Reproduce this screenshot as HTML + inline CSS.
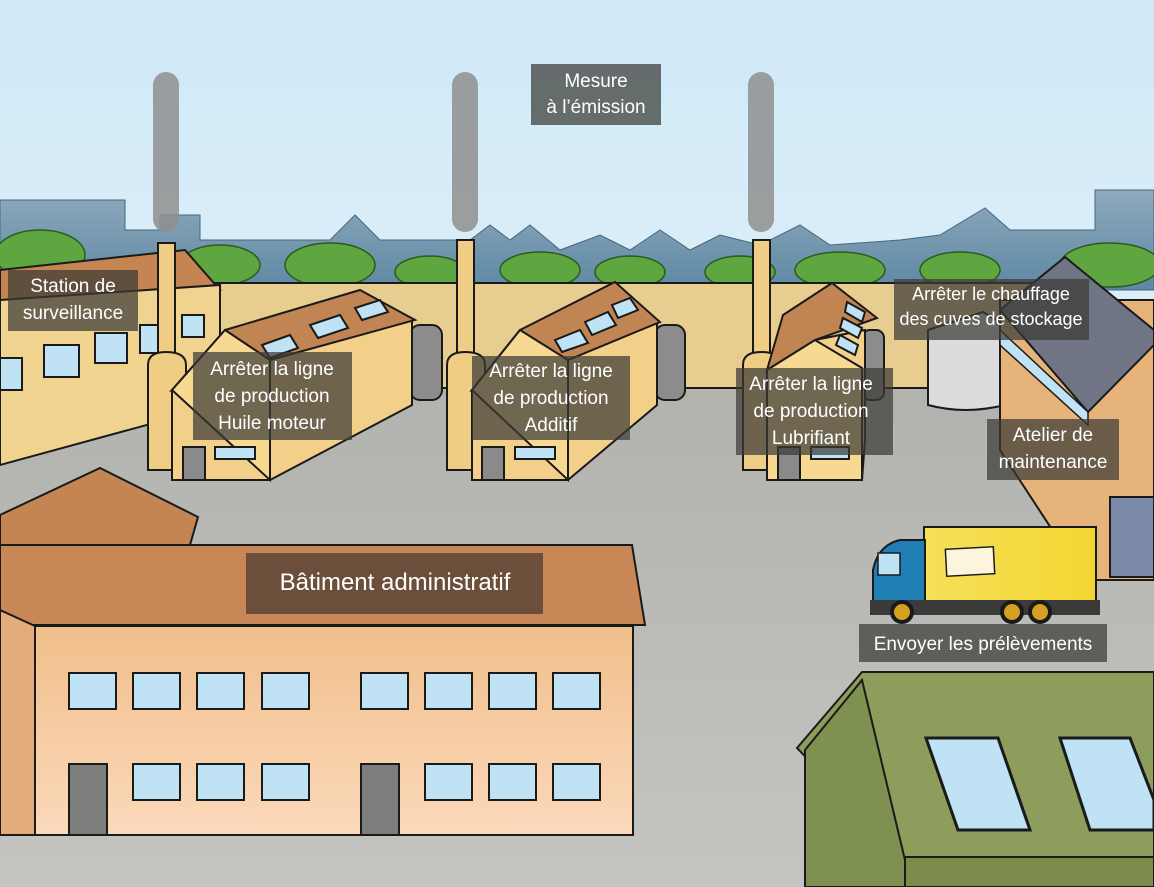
<!DOCTYPE html>
<html><head><meta charset="utf-8"><style>
html,body{margin:0;padding:0;width:1154px;height:887px;overflow:hidden;background:#fff}
svg{display:block}
text{font-family:"Liberation Sans",sans-serif;fill:#fff}
</style></head><body>
<svg width="1154" height="887" viewBox="0 0 1154 887">
<defs>
<linearGradient id="sky" x1="0" y1="0" x2="0" y2="1"><stop offset="0" stop-color="#cfe9f8"/><stop offset="1" stop-color="#f4f9fb"/></linearGradient>
<linearGradient id="city" x1="0" y1="0" x2="0" y2="1"><stop offset="0" stop-color="#8fa9bd"/><stop offset="1" stop-color="#5d88a3"/></linearGradient>
<linearGradient id="ground" x1="0" y1="0" x2="0" y2="1"><stop offset="0" stop-color="#b2b2ae"/><stop offset="1" stop-color="#c4c4c0"/></linearGradient>
<linearGradient id="peach" x1="0" y1="0" x2="0" y2="1"><stop offset="0" stop-color="#f1bf8a"/><stop offset="1" stop-color="#fbd9bb"/></linearGradient>
<linearGradient id="truck" x1="0" y1="0" x2="1" y2="0"><stop offset="0" stop-color="#f5e05a"/><stop offset="1" stop-color="#f3d630"/></linearGradient>
</defs>
<rect width="1154" height="887" fill="url(#sky)"/>
<path d="M0 200 H125 V230 H160 V215 H200 V240 H330 L355 215 L380 240 H470 L490 225 L510 240 L530 225 L560 250 L600 235 L630 250 L660 230 L690 250 L720 235 L760 245 L800 225 L830 245 L900 240 L940 235 L985 208 L1010 230 L1095 230 V190 H1154 V290 H0Z" fill="url(#city)" stroke="#46677d" stroke-width="1"/>
<g fill="#5ea63f" stroke="#2d5a1e" stroke-width="1.5">
<ellipse cx="40" cy="255" rx="45" ry="25"/><ellipse cx="220" cy="265" rx="40" ry="20"/>
<ellipse cx="330" cy="265" rx="45" ry="22"/><ellipse cx="430" cy="272" rx="35" ry="16"/>
<ellipse cx="540" cy="270" rx="40" ry="18"/><ellipse cx="630" cy="272" rx="35" ry="16"/>
<ellipse cx="740" cy="272" rx="35" ry="16"/><ellipse cx="840" cy="270" rx="45" ry="18"/>
<ellipse cx="960" cy="270" rx="40" ry="18"/><ellipse cx="1110" cy="265" rx="50" ry="22"/>
</g>
<rect x="0" y="385" width="1154" height="502" fill="url(#ground)"/>
<rect x="150" y="283" width="900" height="105" fill="#e8cd90" stroke="#1a1a1a" stroke-width="2"/>
<g fill="#8f8f8f" opacity="0.85">
<rect x="153" y="72" width="26" height="160" rx="13"/><rect x="452" y="72" width="26" height="160" rx="13"/><rect x="748" y="72" width="26" height="160" rx="13"/>
</g>
<polygon points="0,270 185,250 220,290 0,310" fill="#c48552" stroke="#1a1a1a" stroke-width="2"/>
<polygon points="0,300 220,285 220,405 0,465" fill="#f0d38f" stroke="#1a1a1a" stroke-width="2"/>
<g fill="#bfe2f5" stroke="#1a1a1a" stroke-width="2">
<rect x="44" y="345" width="35" height="32"/><rect x="95" y="333" width="32" height="30"/><rect x="140" y="325" width="30" height="28"/><rect x="182" y="315" width="22" height="22"/><rect x="0" y="358" width="22" height="32"/>
</g>
<g fill="#f0cd85" stroke="#1a1a1a" stroke-width="2">
<rect x="158" y="243" width="17" height="120"/><path d="M148 365 Q148 352 166 352 Q186 352 186 365 V470 H148Z"/>
<rect x="457" y="240" width="17" height="120"/><path d="M447 365 Q447 352 465 352 Q485 352 485 365 V470 H447Z"/>
<rect x="753" y="240" width="17" height="120"/><path d="M743 365 Q743 352 761 352 Q781 352 781 365 V470 H743Z"/>
</g>
<rect x="410" y="325" width="32" height="75" rx="10" fill="#8c8c8c" stroke="#1a1a1a" stroke-width="2"/>
<polygon points="172,390 270,340 412,320 412,405 270,480 172,480" fill="#f2d08a" stroke="#1a1a1a" stroke-width="2"/>
<polygon points="172,390 225,330 360,290 415,320 270,360" fill="#c08552" stroke="#1a1a1a" stroke-width="2"/>
<polygon points="172,390 225,330 270,360 270,480" fill="#f7d992" stroke="#1a1a1a" stroke-width="2"/>
<g fill="#bfe2f5" stroke="#1a1a1a" stroke-width="2"><polygon points="262,345 290,335 298,348 270,358"/><polygon points="310,325 340,315 348,328 318,338"/><polygon points="355,308 380,300 388,312 362,320"/></g>
<rect x="183" y="447" width="22" height="33" fill="#8a8a8a" stroke="#1a1a1a" stroke-width="2"/>
<rect x="215" y="447" width="40" height="12" fill="#bfe2f5" stroke="#1a1a1a" stroke-width="2"/>
<rect x="655" y="325" width="30" height="75" rx="10" fill="#8c8c8c" stroke="#1a1a1a" stroke-width="2"/>
<polygon points="472,390 570,330 657,322 657,405 568,480 472,480" fill="#f2d08a" stroke="#1a1a1a" stroke-width="2"/>
<polygon points="472,390 520,330 615,282 660,322 568,360" fill="#c08552" stroke="#1a1a1a" stroke-width="2"/>
<polygon points="472,390 520,330 568,360 568,480" fill="#f7d992" stroke="#1a1a1a" stroke-width="2"/>
<g fill="#bfe2f5" stroke="#1a1a1a" stroke-width="2"><polygon points="555,340 580,330 588,343 562,352"/><polygon points="585,322 608,312 616,325 592,335"/><polygon points="612,305 630,298 638,310 618,318"/></g>
<rect x="482" y="447" width="22" height="33" fill="#8a8a8a" stroke="#1a1a1a" stroke-width="2"/>
<rect x="515" y="447" width="40" height="12" fill="#bfe2f5" stroke="#1a1a1a" stroke-width="2"/>
<rect x="862" y="330" width="22" height="70" rx="8" fill="#8c8c8c" stroke="#1a1a1a" stroke-width="2"/>
<polygon points="767,370 815,340 865,330 865,440 862,480 767,480" fill="#f2d08a" stroke="#1a1a1a" stroke-width="2"/>
<polygon points="767,370 783,315 832,283 877,318 815,340" fill="#c08552" stroke="#1a1a1a" stroke-width="2"/>
<polygon points="767,370 815,340 862,368 862,480 767,480" fill="#f7d992" stroke="#1a1a1a" stroke-width="2"/>
<g fill="#bfe2f5" stroke="#1a1a1a" stroke-width="2"><polygon points="847,302 865,312 862,322 845,312"/><polygon points="843,318 862,328 858,338 840,328"/><polygon points="840,335 858,345 855,355 836,345"/></g>
<rect x="778" y="447" width="22" height="33" fill="#8a8a8a" stroke="#1a1a1a" stroke-width="2"/>
<rect x="811" y="447" width="38" height="12" fill="#bfe2f5" stroke="#1a1a1a" stroke-width="2"/>
<path d="M928 330 L983 312 L1005 325 V405 Q965 415 928 405Z" fill="#dcdcdc" stroke="#1a1a1a" stroke-width="2"/>
<polygon points="1000,300 1154,300 1154,580 1085,580 1000,450" fill="#e6b37a" stroke="#1a1a1a" stroke-width="2"/>
<polygon points="1000,310 1065,257 1154,330 1154,345 1088,412" fill="#6f7584" stroke="#1a1a1a" stroke-width="2"/>
<polygon points="1000,330 1088,412 1088,425 1000,345" fill="#bfe2f5" stroke="#1a1a1a" stroke-width="1.5"/>
<rect x="1110" y="497" width="44" height="80" fill="#7b8aa6" stroke="#1a1a1a" stroke-width="2"/>
<rect x="924" y="527" width="172" height="75" fill="url(#truck)" stroke="#1a1a1a" stroke-width="2"/>
<path d="M873 610 V570 Q878 545 900 540 H925 V610Z" fill="#1f7fb5" stroke="#1a1a1a" stroke-width="2"/>
<rect x="878" y="553" width="22" height="22" fill="#bfe2f5" stroke="#1a1a1a" stroke-width="1.5"/>
<rect x="946" y="548" width="48" height="27" fill="#fbf5dc" stroke="#1a1a1a" stroke-width="1.5" transform="rotate(-3 970 561)"/>
<rect x="870" y="600" width="230" height="15" fill="#3a3a3a"/>
<g fill="#d4a020" stroke="#1a1a1a" stroke-width="4"><circle cx="902" cy="612" r="10"/><circle cx="1012" cy="612" r="10"/><circle cx="1040" cy="612" r="10"/></g>
<polygon points="0,515 100,468 198,517 190,545 0,545" fill="#c48552" stroke="#1a1a1a" stroke-width="2"/>
<polygon points="0,545 632,545 645,625 0,625" fill="#c98656" stroke="#1a1a1a" stroke-width="2"/>
<rect x="35" y="626" width="598" height="209" fill="url(#peach)" stroke="#1a1a1a" stroke-width="2"/>
<polygon points="0,610 35,626 35,835 0,835" fill="#e3ac7a" stroke="#1a1a1a" stroke-width="2"/>
<g fill="#bfe2f5" stroke="#1a1a1a" stroke-width="2">
<rect x="69" y="673" width="47" height="36"/><rect x="133" y="673" width="47" height="36"/><rect x="197" y="673" width="47" height="36"/><rect x="262" y="673" width="47" height="36"/>
<rect x="361" y="673" width="47" height="36"/><rect x="425" y="673" width="47" height="36"/><rect x="489" y="673" width="47" height="36"/><rect x="553" y="673" width="47" height="36"/>
<rect x="133" y="764" width="47" height="36"/><rect x="197" y="764" width="47" height="36"/><rect x="262" y="764" width="47" height="36"/>
<rect x="425" y="764" width="47" height="36"/><rect x="489" y="764" width="47" height="36"/><rect x="553" y="764" width="47" height="36"/>
</g>
<rect x="69" y="764" width="38" height="71" fill="#7d7d7b" stroke="#1a1a1a" stroke-width="2"/>
<rect x="361" y="764" width="38" height="71" fill="#7d7d7b" stroke="#1a1a1a" stroke-width="2"/>
<polygon points="797,748 862,672 1154,672 1154,860 905,860" fill="#8d9d5c" stroke="#1a1a1a" stroke-width="2"/>
<polygon points="805,750 862,680 905,860 905,887 805,887" fill="#7f9150" stroke="#1a1a1a" stroke-width="2"/>
<rect x="905" y="857" width="249" height="30" fill="#7b8c4a" stroke="#1a1a1a" stroke-width="2"/>
<g fill="#bfe2f5" stroke="#1a1a1a" stroke-width="3"><polygon points="926,738 998,738 1030,830 958,830"/><polygon points="1060,738 1130,738 1154,800 1154,830 1090,830"/></g>
<g fill="#3a3a36" fill-opacity="0.72">
<rect x="531" y="64" width="130" height="61"/>
<rect x="8" y="270" width="130" height="61"/>
<rect x="193" y="352" width="159" height="88"/>
<rect x="472" y="356" width="158" height="84"/>
<rect x="736" y="368" width="157" height="87"/>
<rect x="894" y="279" width="195" height="61"/>
<rect x="987" y="419" width="132" height="61"/>
<rect x="859" y="624" width="248" height="38"/>
</g>
<rect x="246" y="553" width="297" height="61" fill="#5a4535" fill-opacity="0.85"/>
<g font-size="19" text-anchor="middle">
<text x="596" y="87">Mesure</text><text x="596" y="113">à l’émission</text>
<text x="73" y="292">Station de</text><text x="73" y="319">surveillance</text>
<text x="272" y="375">Arrêter la ligne</text><text x="272" y="402">de production</text><text x="272" y="429">Huile moteur</text>
<text x="551" y="377">Arrêter la ligne</text><text x="551" y="404">de production</text><text x="551" y="431">Additif</text>
<text x="811" y="390">Arrêter la ligne</text><text x="811" y="417">de production</text><text x="811" y="444">Lubrifiant</text>
<text x="991" y="300" font-size="18">Arrêter le chauffage</text><text x="991" y="325" font-size="18">des cuves de stockage</text>
<text x="1053" y="441">Atelier de</text><text x="1053" y="468">maintenance</text>
<text x="983" y="650">Envoyer les prélèvements</text>
<text x="395" y="590" font-size="24">Bâtiment administratif</text>
</g>
</svg>
</body></html>
